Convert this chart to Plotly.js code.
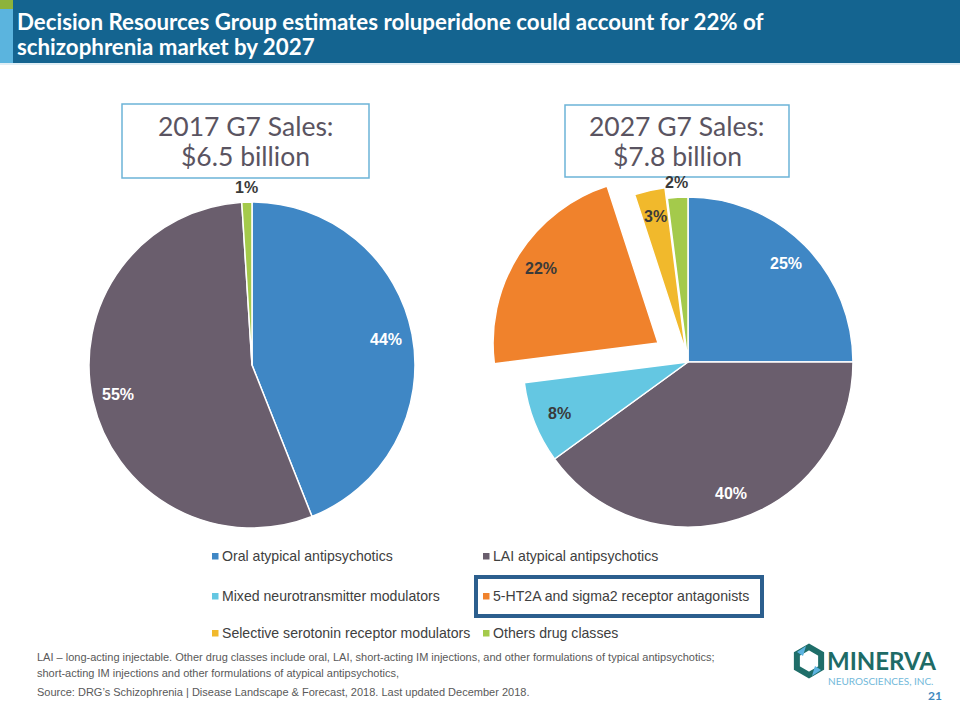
<!DOCTYPE html>
<html><head><meta charset="utf-8">
<script src="https://cdn.plot.ly/plotly-3.0.1.min.js"></script>
<style>html,body{margin:0;padding:0;background:#fff}#chart{width:960px;height:720px}</style>
</head><body><div id="chart"></div>
<script>
// ---- data ----
const categories = ['Oral atypical antipsychotics', 'LAI atypical antipsychotics', 'Mixed neurotransmitter modulators', '5-HT2A and sigma2 receptor antagonists', 'Selective serotonin receptor modulators', 'Others drug classes'];
const labels2017 = ['Oral atypical antipsychotics', 'LAI atypical antipsychotics', 'Others drug classes'];
const share2017 = [44, 55, 1];
const labels2027 = categories;
const share2027 = [25, 40, 8, 22, 3, 2];
const boxTitle2017 = ['2017 G7 Sales:', '$6.5 billion'];
const boxTitle2027 = ['2027 G7 Sales:', '$7.8 billion'];
const highlighted = '5-HT2A and sigma2 receptor antagonists';

// ---- styles ----
const W = 960, H = 720;
const colorOf = {
  'Oral atypical antipsychotics': '#3F87C5',
  'LAI atypical antipsychotics': '#6A5E6D',
  'Mixed neurotransmitter modulators': '#64C7E2',
  '5-HT2A and sigma2 receptor antagonists': '#F0822C',
  'Selective serotonin receptor modulators': '#F1B92C',
  'Others drug classes': '#A4CA4B'
};
const darkLabel = '#3A3A3A';
const whiteLabelCats = ['Oral atypical antipsychotics', 'LAI atypical antipsychotics'];
const pullOf = {'5-HT2A and sigma2 receptor antagonists': 0.215, 'Selective serotonin receptor modulators': 0.065};

const geo2017 = {cx: 252, cy: 365, r: 163};
const geo2027 = {cx: 688, cy: 362, r: 165};

function domainFor(g, maxPull) {
  const side = 2 * g.r * (1 + maxPull);
  return {x: [(g.cx - side / 2) / W, (g.cx + side / 2) / W],
          y: [1 - (g.cy + side / 2) / H, 1 - (g.cy - side / 2) / H]};
}

function pieTrace(labels, values, g, name) {
  const pulls = labels.map(l => pullOf[l] || 0);
  const maxPull = Math.max.apply(null, pulls);
  return {
    type: 'pie', name: name, labels: labels, values: values, sort: false,
    direction: 'clockwise', rotation: 0, pull: pulls,
    marker: {colors: labels.map(l => colorOf[l]), line: {color: '#ffffff', width: 1.5}},
    textinfo: 'none', hoverinfo: 'label+percent', showlegend: false,
    domain: domainFor(g, maxPull)
  };
}

const annotations = [];
const shapes = [];
function px(x) { return x / W; }
function py(y) { return 1 - y / H; }

function sliceLabels(labels, values, g) {
  const total = values.reduce((a, b) => a + b, 0);
  let cum = 0;
  labels.forEach((l, i) => {
    const v = values[i];
    const mid = (cum + v / 2) / total * 2 * Math.PI;
    cum += v;
    const dx = Math.sin(mid), dy = -Math.cos(mid);
    const pull = pullOf[l] || 0;
    const outside = v / total < 0.025;
    const f = pull + (outside ? 1.09 : 0.84);
    annotations.push({
      xref: 'paper', yref: 'paper', x: px(g.cx + f * g.r * dx), y: py(g.cy + f * g.r * dy),
      xanchor: 'center', yanchor: 'middle', showarrow: false,
      text: '<b>' + Math.round(v / total * 100) + '%</b>',
      font: {family: 'Arial, Liberation Sans, sans-serif', size: 16,
             color: (!outside && whiteLabelCats.indexOf(l) >= 0) ? '#ffffff' : darkLabel}
    });
  });
}
sliceLabels(labels2017, share2017, geo2017);
sliceLabels(labels2027, share2027, geo2027);

// header
shapes.push({type: 'rect', xref: 'paper', yref: 'paper', x0: px(0), x1: px(W), y0: py(0), y1: py(63), fillcolor: '#146490', line: {width: 0}, layer: 'below'});
shapes.push({type: 'rect', xref: 'paper', yref: 'paper', x0: px(0), x1: px(13), y0: py(9), y1: py(63), fillcolor: '#5BB4DE', line: {width: 0}, layer: 'below'});
shapes.push({type: 'rect', xref: 'paper', yref: 'paper', x0: px(0), x1: px(13), y0: py(0), y1: py(9), fillcolor: '#8DB33B', line: {width: 0}, layer: 'below'});
shapes.push({type: 'line', xref: 'paper', yref: 'paper', x0: px(0), x1: px(W), y0: py(64), y1: py(64), line: {color: '#D6E8F2', width: 1.5}});
const titleFont = {family: 'Lato, Open Sans, sans-serif', size: 22.3, color: '#ffffff'};
annotations.push({xref: 'paper', yref: 'paper', x: px(15), y: py(21), xanchor: 'left', yanchor: 'middle', showarrow: false,
  text: '<b>Decision Resources Group estimates roluperidone could account for 22% of</b>', font: titleFont});
annotations.push({xref: 'paper', yref: 'paper', x: px(15), y: py(47), xanchor: 'left', yanchor: 'middle', showarrow: false,
  text: '<b>schizophrenia market by 2027</b>', font: titleFont});

// sales boxes
function salesBox(x0, x1, y0, y1, lines) {
  shapes.push({type: 'rect', xref: 'paper', yref: 'paper', x0: px(x0), x1: px(x1), y0: py(y1), y1: py(y0),
    fillcolor: '#ffffff', line: {color: '#6CB4D7', width: 1.5}});
  const mid = (y0 + y1) / 2;
  [mid - 15, mid + 15].forEach((y, k) => {
    annotations.push({xref: 'paper', yref: 'paper', x: px((x0 + x1) / 2), y: py(y), xanchor: 'center', yanchor: 'middle',
      showarrow: false, text: lines[k], font: {family: 'Lato, Open Sans, sans-serif', size: 26.5, color: '#5A5461'}});
  });
}
salesBox(122, 369, 104, 178, boxTitle2017);
salesBox(565, 789, 105, 177, boxTitle2027);

// legend
const legX = [212, 483], legY = [556, 596, 633];
categories.forEach((c, i) => {
  const x = legX[i % 2], y = legY[Math.floor(i / 2)];
  shapes.push({type: 'rect', xref: 'paper', yref: 'paper', x0: px(x), x1: px(x + 6.5), y0: py(y + 3.5), y1: py(y - 3),
    fillcolor: colorOf[c], line: {width: 0}});
  annotations.push({xref: 'paper', yref: 'paper', x: px(x + 8), y: py(y), xanchor: 'left', yanchor: 'middle', showarrow: false,
    text: c, font: {family: 'Arial, Liberation Sans, sans-serif', size: 14.1, color: '#404040'}});
  if (c === highlighted) {
    shapes.push({type: 'rect', xref: 'paper', yref: 'paper', x0: px(476), x1: px(762), y0: py(616), y1: py(577),
      line: {color: '#2C5F8E', width: 4}});
  }
});

// footnotes
const noteFont = {family: 'Arial, Liberation Sans, sans-serif', size: 11, color: '#595959'};
[['LAI – long-acting injectable. Other drug classes include oral, LAI, short-acting IM injections, and other formulations of typical antipsychotics;', 657],
 ['short-acting IM injections and other formulations of atypical antipsychotics,', 673],
 ['Source: DRG’s Schizophrenia | Disease Landscape & Forecast, 2018. Last updated December 2018.', 692]].forEach(n => {
  annotations.push({xref: 'paper', yref: 'paper', x: px(35), y: py(n[1]), xanchor: 'left', yanchor: 'middle', showarrow: false, text: n[0], font: noteFont});
});

// logo
(function () {
  const cx = 809, cy = 661, R = 14;
  let d = '';
  for (let k = 0; k < 6; k++) {
    const a = Math.PI / 6 + k * Math.PI / 3;
    const X = px(cx + R * Math.cos(a)), Y = py(cy + R * Math.sin(a));
    d += (k === 0 ? 'M' : 'L') + X + ',' + Y;
  }
  d += 'Z';
  shapes.push({type: 'path', xref: 'paper', yref: 'paper', path: d, line: {color: '#1F6E69', width: 6}, fillcolor: 'rgba(0,0,0,0)'});
  const tri = (pts) => 'M' + pts.map(p => px(p[0]) + ',' + py(p[1])).join('L') + 'Z';
  shapes.push({type: 'path', xref: 'paper', yref: 'paper', path: tri([[797, 652], [806, 646], [803, 656]]), fillcolor: '#5DB3E0', line: {width: 0}});
  shapes.push({type: 'path', xref: 'paper', yref: 'paper', path: tri([[821, 670], [812, 676], [815, 666]]), fillcolor: '#5DB3E0', line: {width: 0}});
})();
annotations.push({xref: 'paper', yref: 'paper', x: px(825), y: py(660), xanchor: 'left', yanchor: 'middle', showarrow: false,
  text: '<b>MINERVA</b>', font: {family: 'Lato, Open Sans, sans-serif', size: 24, color: '#1E6B66'}});
annotations.push({xref: 'paper', yref: 'paper', x: px(826), y: py(681), xanchor: 'left', yanchor: 'middle', showarrow: false,
  text: 'NEUROSCIENCES, INC.', font: {family: 'Lato, Open Sans, sans-serif', size: 10, color: '#72B9DA'}});
annotations.push({xref: 'paper', yref: 'paper', x: px(944), y: py(695), xanchor: 'right', yanchor: 'middle', showarrow: false,
  text: '<b>21</b>', font: {family: 'Lato, Open Sans, sans-serif', size: 12, color: '#4189BE'}});

const data = [pieTrace(labels2027, share2027, geo2027, '2027'), pieTrace(labels2017, share2017, geo2017, '2017')];
const layout = {
  width: W, height: H, margin: {l: 0, r: 0, t: 0, b: 0},
  paper_bgcolor: '#ffffff', plot_bgcolor: '#ffffff', showlegend: false,
  annotations: annotations, shapes: shapes
};
Plotly.newPlot('chart', data, layout, {displayModeBar: false, staticPlot: true});
</script>
</body></html>
